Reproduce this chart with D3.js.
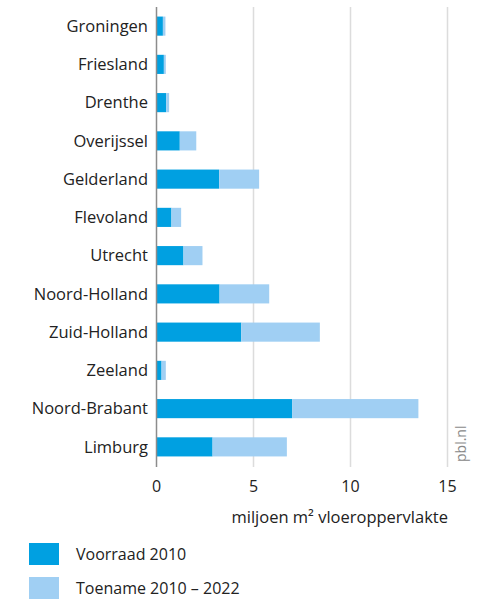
<!DOCTYPE html>
<html><head><meta charset="utf-8">
<script src="https://cdn.jsdelivr.net/npm/d3@7"></script>
<style>
body{margin:0;background:#fff;}
text{font-family:"Open Sans","Noto Sans",sans-serif;}
</style></head>
<body><svg id="c" width="482" height="599"></svg>
<script>
const provinces = ["Groningen","Friesland","Drenthe","Overijssel","Gelderland","Flevoland","Utrecht","Noord-Holland","Zuid-Holland","Zeeland","Noord-Brabant","Limburg"];
const voorraad2010 = [0.33,0.38,0.5,1.2,3.23,0.77,1.39,3.25,4.37,0.26,7.0,2.89];
const toename = [0.13,0.10,0.15,0.85,2.06,0.5,0.98,2.56,4.05,0.22,6.5,3.83];
const xTicks = [0,5,10,15];
const seriesNames = ["Voorraad 2010","Toename 2010 – 2022"];
const colors = ["#00a0e1","#a0cff3"];

const svg = d3.select("#c");
const x = d3.scaleLinear().domain([0,15]).range([156.5,447.5]);
const y = d3.scaleBand().domain(provinces).range([7,466]).paddingInner(0.5).paddingOuter(0.25);

// gridlines
svg.append("g").selectAll("line").data(xTicks.filter(d=>d>0)).join("line")
  .attr("x1",d=>x(d)).attr("x2",d=>x(d)).attr("y1",7).attr("y2",467)
  .attr("stroke","#dcdcdc").attr("stroke-width",1.5);

const data = provinces.map((p,i)=>({p, a:voorraad2010[i], b:toename[i]}));
const g = svg.append("g");
g.selectAll("rect.a").data(data).join("rect").attr("class","a")
  .attr("x",x(0)).attr("y",d=>y(d.p)).attr("height",y.bandwidth())
  .attr("width",d=>x(d.a)-x(0)).attr("fill",colors[0]);
g.selectAll("rect.b").data(data).join("rect").attr("class","b")
  .attr("x",d=>x(d.a)).attr("y",d=>y(d.p)).attr("height",y.bandwidth())
  .attr("width",d=>x(d.a+d.b)-x(d.a)).attr("fill",colors[1]);

// y axis line
svg.append("line").attr("x1",x(0)).attr("x2",x(0)).attr("y1",7).attr("y2",467)
  .attr("stroke","#8c8c8c").attr("stroke-width",1.5);

// category labels
svg.append("g").selectAll("text").data(provinces).join("text")
  .attr("x",148).attr("y",d=>y(d)+y.bandwidth()/2).attr("dy","0.35em")
  .attr("text-anchor","end").attr("font-size",16.5).attr("fill","#222").text(d=>d);

// x tick labels
svg.append("g").selectAll("text").data(xTicks).join("text")
  .attr("x",d=>x(d)).attr("y",486).attr("dy","0.35em").attr("text-anchor","middle")
  .attr("font-size",16).attr("fill","#222").text(d=>d);

svg.append("text").attr("x",448).attr("y",517).attr("dy","0.35em").attr("text-anchor","end")
  .attr("font-size",16.5).attr("fill","#222").text("miljoen m² vloeroppervlakte");

svg.append("text").attr("transform","translate(466,462) rotate(-90)")
  .attr("font-size",14).attr("fill","#888").text("pbl.nl");

// legend
const leg = svg.append("g").selectAll("g").data(seriesNames).join("g")
  .attr("transform",(d,i)=>`translate(29,${543+i*34})`);
leg.append("rect").attr("width",30).attr("height",22).attr("fill",(d,i)=>colors[i]);
leg.append("text").attr("x",47).attr("y",11).attr("dy","0.35em").attr("font-size",16)
  .attr("fill","#222").text(d=>d);
</script></body></html>
